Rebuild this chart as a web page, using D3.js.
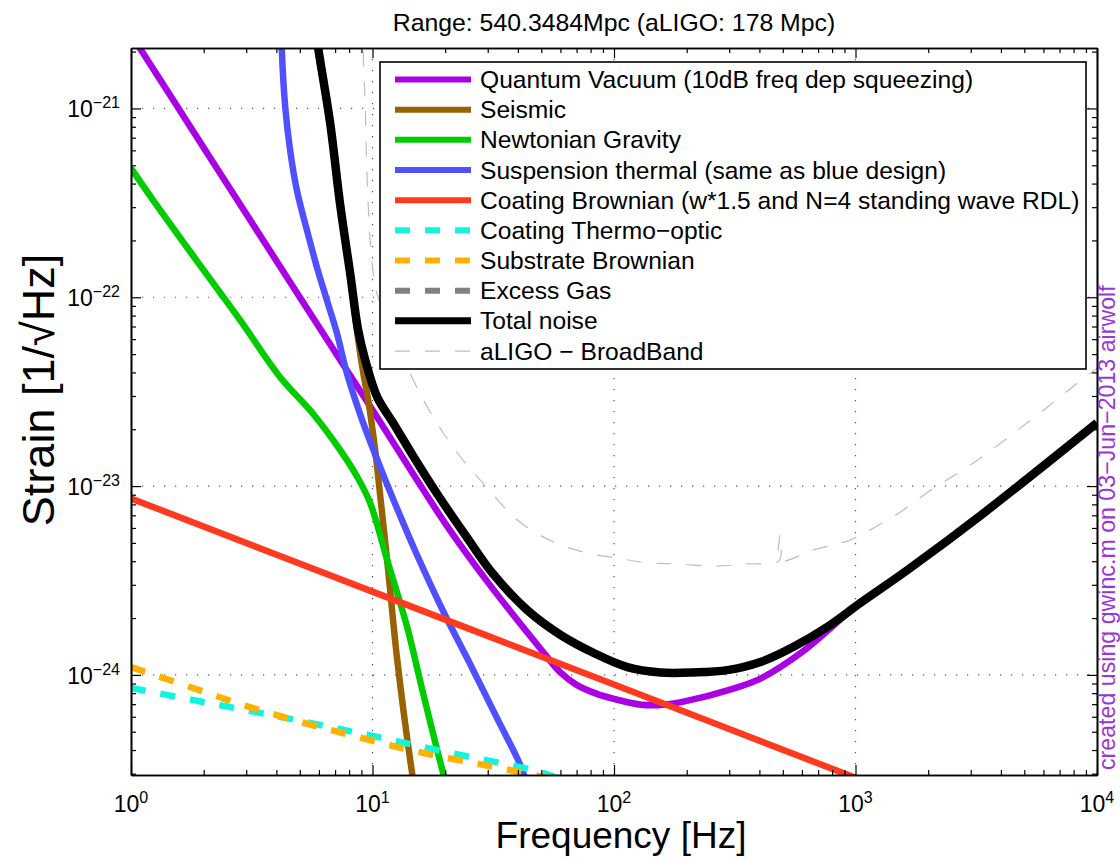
<!DOCTYPE html>
<html>
<head>
<meta charset="utf-8">
<script src="https://cdn.jsdelivr.net/npm/d3@7"></script>
<style>
  html, body { margin: 0; padding: 0; background: #fff; }
  svg { display: block; font-family: "Liberation Sans", Arial, Helvetica, sans-serif; }
</style>
</head>
<body>
<svg id="chart" width="1120" height="860"></svg>
<script>
// ---- Noise budget curves: [frequency Hz, strain 1/sqrt(Hz)] ----
const quantumVacuum = [
  [1, 2.47e-21], [2, 6.2e-22], [5, 1.0e-22], [10, 2.53e-23], [20, 6.35e-24],
  [30, 3.1e-24], [50, 1.36e-24], [60, 1.03e-24], [70, 8.85e-25], [85, 7.93e-25],
  [100, 7.46e-25], [130, 6.95e-25], [160, 6.95e-25], [200, 7.28e-25], [300, 8.34e-25],
  [400, 9.5e-25], [600, 1.32e-24], [1000, 2.29e-24], [2000, 4.32e-24], [5000, 1.06e-23],
  [10000, 2.16e-23]
];
const seismic = [
  [5.5, 4.2e-21], [5.96, 2.0e-21], [6.68, 8.0e-22], [7.35, 3.0e-22], [8.08, 1.3e-22],
  [8.64, 6.5e-23], [9.15, 4.0e-23], [9.6, 2.86e-23], [10.26, 1.55e-23], [10.87, 7.9e-24],
  [11.61, 3.6e-24], [12.66, 1.2e-24], [14.6, 3.0e-25], [15.2, 2.2e-25]
];
const newtonianGravity = [
  [1, 4.83e-22], [1.234, 3.27e-22], [1.93, 1.48e-22], [2.83, 7.57e-23], [4.14, 3.78e-23],
  [5.68, 2.41e-23], [7.35, 1.55e-23], [8.64, 1.12e-23], [9.78, 8.14e-24], [11.5, 4.06e-24],
  [13.9, 1.8e-24], [16.2, 8.0e-25], [19.6, 3.03e-25], [20.5, 2.5e-25]
];
const suspensionThermal = [
  [4.15, 5e-21], [4.21, 2.08e-21], [4.35, 1.02e-21], [4.56, 6.0e-22], [4.86, 3.7e-22],
  [5.35, 2.27e-22], [5.88, 1.45e-22], [6.47, 9.67e-23], [7.12, 6.47e-23], [7.83, 3.97e-23],
  [9.15, 2.16e-23], [10.76, 1.26e-23], [12.66, 7.57e-24], [15.03, 4.53e-24], [19.6, 2.18e-24],
  [24.7, 1.22e-24], [32.9, 5.85e-25], [40.2, 3.51e-25], [43, 2.8e-25]
];
const coatingBrownian = [
  [1, 8.6e-24], [10, 2.76e-24], [100, 8.9e-25], [1000, 2.85e-25]
];
const coatingThermoOptic = [
  [1, 8.53e-25], [1.99, 7.19e-25], [4.56, 5.85e-25], [10, 4.75e-25], [21, 3.86e-25],
  [49.5, 3.06e-25], [60, 2.8e-25]
];
const substrateBrownian = [
  [1, 1.1e-24], [1.756, 8.63e-25], [2.91, 6.93e-25], [5.01, 5.64e-25], [8.08, 4.81e-25],
  [14.3, 4.0e-25], [31.6, 3.26e-25], [42.1, 3.03e-25], [60, 2.75e-25]
];
const totalNoise = [
  [5.5, 4.2e-21], [5.96, 2.08e-21], [6.68, 8.35e-22], [7.35, 3.08e-22], [8.08, 1.34e-22],
  [8.72, 6.7e-23], [9.33, 4.65e-23], [10.46, 2.96e-23], [12.18, 2.16e-23], [14.75, 1.44e-23],
  [18.54, 9.08e-24], [24.7, 5.31e-24], [31.6, 3.42e-24], [43.8, 2.2e-24], [60, 1.63e-24],
  [82.1, 1.31e-24], [113.6, 1.10e-24], [155.7, 1.03e-24], [213, 1.03e-24], [295, 1.06e-24],
  [404, 1.17e-24], [554, 1.41e-24], [766, 1.80e-24], [1050, 2.41e-24], [1644, 3.60e-24],
  [3396, 7.2e-24], [10000, 2.16e-23]
];
const aligoBroadband = [
  [9.0, 6e-21], [9.15, 2.03e-21], [9.33, 1.02e-21], [9.48, 4.54e-22], [9.78, 2.0e-22],
  [10.07, 1.34e-22], [10.43, 1.05e-22], [14.3, 3.96e-23], [17.85, 2.32e-23], [23.1, 1.43e-23],
  [29.9, 9.77e-24], [39.8, 6.61e-24], [56.1, 5.06e-24], [77.6, 4.42e-24], [103, 4.16e-24],
  [137, 3.92e-24], [183, 3.87e-24], [258, 3.77e-24], [357, 3.87e-24], [483, 4.03e-24],
  [486, 5.5e-24], [489, 4.04e-24], [670, 4.59e-24], [954, 5.19e-24], [1189, 6.0e-24],
  [1582, 7.48e-24], [2107, 9.77e-24], [2650, 1.17e-23], [3525, 1.5e-23], [4695, 1.98e-23],
  [6025, 2.53e-23], [8320, 3.52e-23], [10000, 4.2e-23]
];
const excessGas = [];

// ---- Axis ticks and labels ----
const freqTicks = [1, 10, 100, 1000, 10000];
const freqTickExponents = ["0", "1", "2", "3", "4"];
const strainTicks = [1e-24, 1e-23, 1e-22, 1e-21];
const strainTickExponents = ["\u221224", "\u221223", "\u221222", "\u221221"];

const legendLabels = [
  "Quantum Vacuum (10dB freq dep squeezing)",
  "Seismic",
  "Newtonian Gravity",
  "Suspension thermal (same as blue design)",
  "Coating Brownian (w*1.5 and N=4 standing wave RDL)",
  "Coating Thermo\u2212optic",
  "Substrate Brownian",
  "Excess Gas",
  "Total noise",
  "aLIGO \u2212 BroadBand"
];

const titleText = "Range: 540.3484Mpc (aLIGO: 178 Mpc)";
const xLabelText = "Frequency [Hz]";
const yLabelText = "Strain [1/\u221AHz]";
const noteText = "created using gwinc.m on 03\u2212Jun\u22122013 airwolf";

// ---- Layout ----
const plot = { left: 131, right: 1097, top: 48, bottom: 775 };
const svg = d3.select("#chart");

const x = d3.scaleLog().domain([1, 1e4]).range([plot.left, plot.right]);
const y = d3.scaleLog().domain([2.95e-25, 2.09e-21]).range([plot.bottom, plot.top]);

const series = [
  { data: quantumVacuum,      color: "#a900e6", width: 6.5 },
  { data: seismic,            color: "#996200", width: 6.5 },
  { data: newtonianGravity,   color: "#00cc00", width: 6.5 },
  { data: suspensionThermal,  color: "#5050ff", width: 6.5 },
  { data: coatingBrownian,    color: "#ff3a1e", width: 6.5 },
  { data: coatingThermoOptic, color: "#10f5e0", width: 6.5, dash: "15,15" },
  { data: substrateBrownian,  color: "#ffb000", width: 6.5, dash: "15,15" },
  { data: excessGas,          color: "#808080", width: 6.5, dash: "15,15" },
  { data: totalNoise,         color: "#000000", width: 8.5 },
  { data: aligoBroadband,     color: "#bdbdbd", width: 1.2, dash: "15,15" }
];
series.forEach((s, i) => { s.label = legendLabels[i]; });

svg.append("defs").append("clipPath").attr("id", "plot-clip")
  .append("rect")
  .attr("x", plot.left).attr("y", plot.top)
  .attr("width", plot.right - plot.left).attr("height", plot.bottom - plot.top);

// dotted grid at decades
const grid = svg.append("g")
  .attr("stroke", "#555").attr("stroke-width", 1.2)
  .attr("stroke-dasharray", "1.2,9.8");
grid.selectAll("line.gx").data(freqTicks.slice(1, -1)).join("line")
  .attr("class", "gx")
  .attr("x1", d => x(d)).attr("x2", d => x(d))
  .attr("y1", plot.top).attr("y2", plot.bottom);
grid.selectAll("line.gy").data(strainTicks).join("line")
  .attr("class", "gy")
  .attr("x1", plot.left).attr("x2", plot.right)
  .attr("y1", d => y(d)).attr("y2", d => y(d));

// noise curves
const lineGen = d3.line()
  .x(d => x(d[0]))
  .y(d => y(d[1]))
  .curve(d3.curveCatmullRom.alpha(0.5));

const curves = svg.append("g").attr("clip-path", "url(#plot-clip)");
series.filter(s => s.data.length > 1).forEach(s => {
  curves.append("path")
    .datum(s.data)
    .attr("d", lineGen)
    .attr("fill", "none")
    .attr("stroke", s.color)
    .attr("stroke-width", s.width)
    .attr("stroke-linejoin", "round")
    .attr("stroke-dasharray", s.dash || null);
});

// axes: box with inward major/minor ticks on all four sides
const isDecade = v => Math.abs(Math.log10(v) - Math.round(Math.log10(v))) < 1e-6;
const xMinor = x.ticks().filter(v => !isDecade(v));
const yMinor = y.ticks().filter(v => !isDecade(v));

function styleAxis(g) {
  g.select(".domain").attr("stroke", "#000").attr("stroke-width", 1.6);
  g.selectAll(".tick line").attr("stroke", "#000").attr("stroke-width", 1.2);
  g.selectAll(".tick text").remove();
}
const axes = svg.append("g");
[
  [d3.axisBottom, x, "translate(0," + plot.bottom + ")"],
  [d3.axisTop, x, "translate(0," + plot.top + ")"],
  [d3.axisLeft, y, "translate(" + plot.left + ",0)"],
  [d3.axisRight, y, "translate(" + plot.right + ",0)"]
].forEach(([mk, sc, tr]) => {
  const isX = sc === x;
  axes.append("g").attr("transform", tr)
    .call(mk(sc).tickValues(isX ? xMinor : yMinor).tickSizeInner(-5).tickSizeOuter(0).tickFormat(""))
    .call(styleAxis);
  axes.append("g").attr("transform", tr)
    .call(mk(sc).tickValues(isX ? freqTicks : strainTicks).tickSizeInner(-10).tickSizeOuter(0).tickFormat(""))
    .call(styleAxis);
});

// tick labels with superscript exponents
const xLabels = svg.append("g").attr("fill", "#000");
freqTicks.forEach((v, i) => {
  const t = xLabels.append("text")
    .attr("x", x(v)).attr("y", plot.bottom + 37)
    .attr("text-anchor", "middle").attr("font-size", 23);
  t.append("tspan").text("10");
  t.append("tspan").attr("font-size", 16).attr("dy", -9).text(freqTickExponents[i]);
});
const yLabels = svg.append("g").attr("fill", "#000");
strainTicks.forEach((v, i) => {
  const t = yLabels.append("text")
    .attr("x", plot.left - 11).attr("y", y(v) + 9)
    .attr("text-anchor", "end").attr("font-size", 23);
  t.append("tspan").text("10");
  t.append("tspan").attr("font-size", 16).attr("dy", -9).text(strainTickExponents[i]);
});

// title and axis titles
svg.append("text")
  .attr("x", (plot.left + plot.right) / 2).attr("y", 31)
  .attr("text-anchor", "middle").attr("font-size", 24.8)
  .text(titleText);
svg.append("text")
  .attr("x", 621).attr("y", 848)
  .attr("text-anchor", "middle").attr("font-size", 37)
  .text(xLabelText);
svg.append("text")
  .attr("transform", "translate(54,390) rotate(-90)")
  .attr("text-anchor", "middle").attr("font-size", 45)
  .text(yLabelText);

// side note
svg.append("text")
  .attr("transform", "translate(1115,770) rotate(-90)")
  .attr("text-anchor", "start").attr("font-size", 23.2)
  .attr("fill", "#9b36d6")
  .text(noteText);

// legend
const legend = svg.append("g");
legend.append("rect")
  .attr("x", 380).attr("y", 62).attr("width", 706).attr("height", 307)
  .attr("fill", "#fff").attr("stroke", "#000").attr("stroke-width", 1.6);
series.forEach((s, i) => {
  const cy = 79.5 + i * 30.17;
  legend.append("line")
    .attr("x1", 395).attr("x2", 471).attr("y1", cy).attr("y2", cy)
    .attr("stroke", s.color)
    .attr("stroke-width", s.width > 8 ? 7 : Math.min(s.width, 6))
    .attr("stroke-dasharray", s.dash || null);
  legend.append("text")
    .attr("x", 480).attr("y", cy + 8.5)
    .attr("font-size", 24.6)
    .text(s.label);
});
</script>
</body>
</html>
